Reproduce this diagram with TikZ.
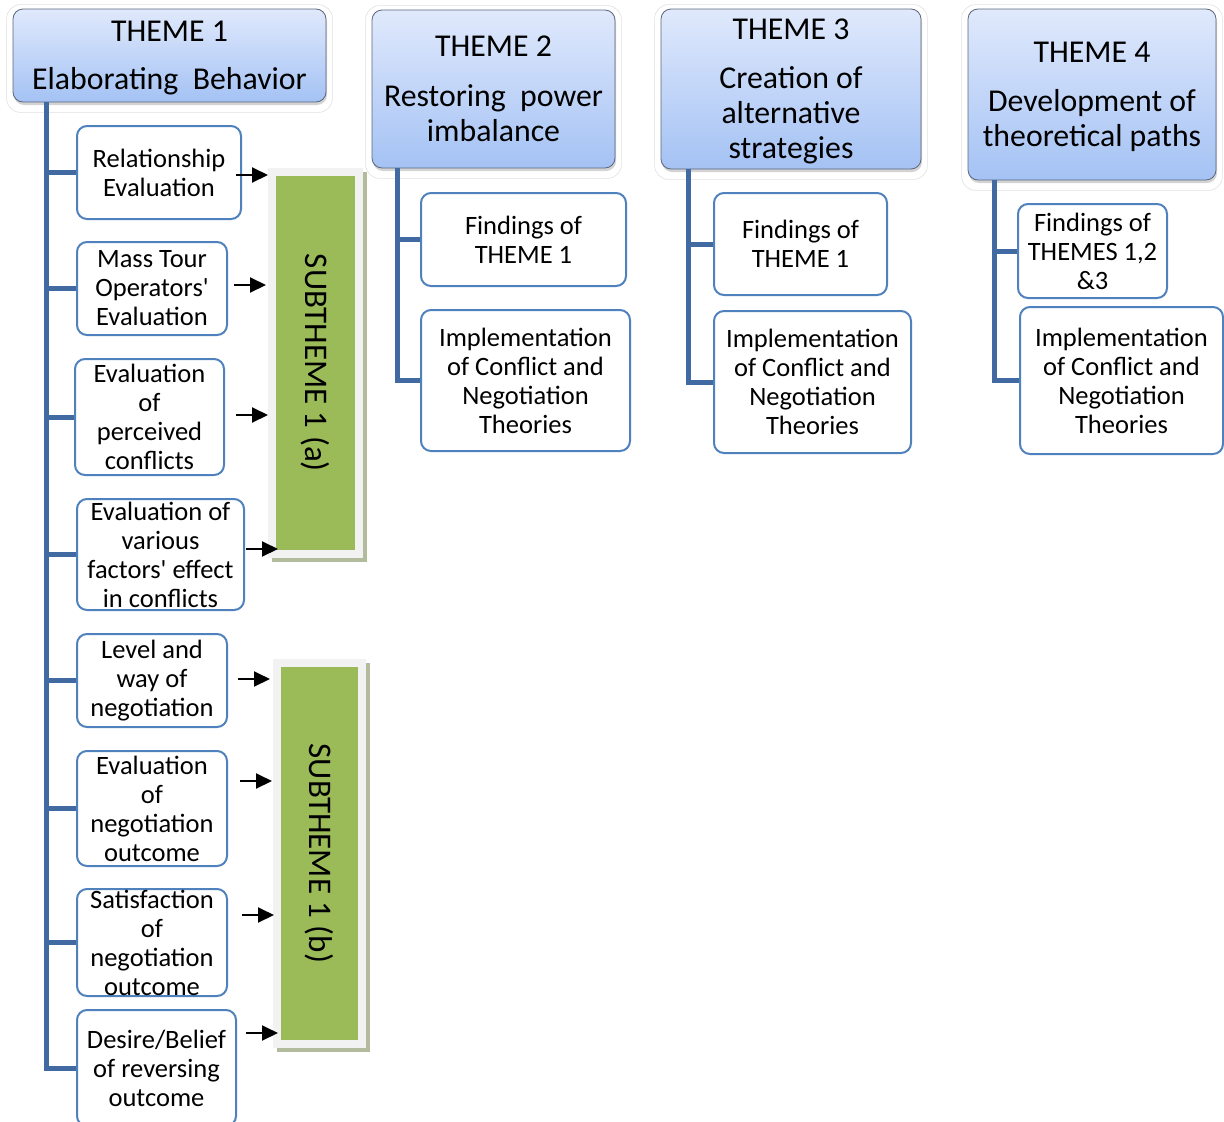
\documentclass[tikz,border=0pt]{standalone}
\usepackage{fontspec}
\setmainfont{Carlito}
\usetikzlibrary{shadows,arrows.meta,calc}

\definecolor{branchblue}{RGB}{65,106,162}
\definecolor{boxblue}{RGB}{79,129,189}
\definecolor{headtop}{RGB}{224,233,252}
\definecolor{headbot}{RGB}{164,194,244}
\definecolor{headline}{RGB}{92,102,122}
\definecolor{subgreen}{RGB}{155,187,89}
\definecolor{subframe}{RGB}{242,242,242}
\definecolor{subshadow}{RGB}{178,188,156}

% stacked header lines, lowered a little inside the box (box size kept)
\newcommand{\hdtext}[1]{\raisebox{-3pt}[\height][\depth]{\begin{tabular}{@{}c@{}}#1\end{tabular}}}

\tikzset{
  theme/.style={rounded corners=10pt, top color=headtop, bottom color=headbot,
    draw=headline, line width=0.8pt, align=center, inner sep=0pt,
    drop shadow={shadow xshift=1pt, shadow yshift=-3pt, opacity=0.35},
    font=\fontsize{31.8}{35}\selectfont},
  halo/.style={draw=black!12, line width=0.6pt, rounded corners=14pt},
  leaf/.style={draw=boxblue, line width=2pt, rounded corners=10pt, fill=white,
    align=center, inner sep=0pt, font=\fontsize{26.5}{29}\selectfont},
  trunk/.style={draw=branchblue, line width=5pt},
  arr/.style={-{Triangle[length=16pt,width=15pt]}, line width=2pt, black},
  subtheme/.style={fill=subgreen, draw=subframe, line width=8pt, inner sep=0pt,
    font=\fontsize{33}{36}\selectfont,
    preaction={fill=subshadow, draw=subshadow, line width=8pt,
      transform canvas={xshift=4pt, yshift=-4pt}}},
}

\begin{document}
\begin{tikzpicture}[x=1pt, y=-1pt]
\useasboundingbox (0,0) rectangle (1224,1122);

% theme headers
\node[theme, minimum width=313, minimum height=93] (t1) at (169.5,55.5)
  {\hdtext{THEME 1\\[13pt]Elaborating\ \ Behavior}};
\node[theme, minimum width=243, minimum height=158] (t2) at (493.5,89)
  {\hdtext{THEME 2\\[15pt]Restoring\ \ power\\imbalance}};
\node[theme, minimum width=260, minimum height=160] (t3) at (791,89)
  {\hdtext{THEME 3\\[14pt]Creation of\\alternative\\strategies}};
\node[theme, minimum width=248, minimum height=171] (t4) at (1092,94.5)
  {\hdtext{THEME 4\\[14pt]Development of\\theoretical paths}};

\foreach \t in {t1,t2,t3,t4}
  \draw[halo] ($(\t.north west)+(-6,-4)$) rectangle ($(\t.south east)+(6,10)$);

% subthemes
\node[subtheme, minimum width=87, minimum height=382] (sa) at (315.5,363)
  {\rotatebox{-90}{SUBTHEME 1 (a)}};
\node[subtheme, minimum width=85, minimum height=381] (sb) at (319.5,853.5)
  {\rotatebox{-90}{SUBTHEME 1 (b)}};

% theme 1 items
\node[leaf, minimum width=164, minimum height=93] (c1) at (159,172.5)
  {Relationship\\Evaluation};
\node[leaf, minimum width=150, minimum height=93] (c2) at (152,288.5)
  {Mass Tour\\Operators\textquotesingle\\Evaluation};
\node[leaf, minimum width=149, minimum height=116] (c3) at (149.5,417)
  {Evaluation\\of\\perceived\\conflicts};
\node[leaf, minimum width=167, minimum height=111] (c4) at (160.5,554.5)
  {Evaluation of\\various\\factors\textquotesingle\ effect\\in conflicts};
\node[leaf, minimum width=150, minimum height=93] (c5) at (152,680.5)
  {Level and\\way of\\negotiation};
\node[leaf, minimum width=150, minimum height=115] (c6) at (152,808.5)
  {Evaluation\\of\\negotiation\\outcome};
\node[leaf, minimum width=150, minimum height=107] (c7) at (152,942.5)
  {Satisfaction\\of\\negotiation\\outcome};
\node[leaf, minimum width=159, minimum height=116] (c8) at (156.5,1068)
  {Desire/Belief\\of reversing\\outcome};

% theme 2 items
\node[leaf, minimum width=205, minimum height=93] (f2) at (523.5,239.5)
  {Findings of\\THEME 1};
\node[leaf, minimum width=209, minimum height=141] (i2) at (525.5,380.5)
  {Implementation\\of Conflict and\\Negotiation\\Theories};
% theme 3 items
\node[leaf, minimum width=173, minimum height=102] (f3) at (800.5,244)
  {Findings of\\THEME 1};
\node[leaf, minimum width=197, minimum height=142] (i3) at (812.5,382)
  {Implementation\\of Conflict and\\Negotiation\\Theories};
% theme 4 items
\node[leaf, minimum width=149, minimum height=94] (f4) at (1092.5,251)
  {Findings of\\THEMES 1,2\\\&3};
\node[leaf, minimum width=203, minimum height=147] (i4) at (1121.5,380.5)
  {Implementation\\of Conflict and\\Negotiation\\Theories};

% trunks and branches
\coordinate (r1) at (46,102);
\coordinate (r2) at (397,168);
\coordinate (r3) at (688,169);
\coordinate (r4) at (994,180);

\draw[trunk] (r1) |- (c8.west);
\foreach \c in {c1,c2,c3,c4,c5,c6,c7}
  \draw[trunk] (r1 |- \c.west) -- (\c.west);
\draw[trunk] (r2) |- (i2.west);
\draw[trunk] (r2 |- f2.west) -- (f2.west);
\draw[trunk] (r3) |- (i3.west);
\draw[trunk] (r3 |- f3.west) -- (f3.west);
\draw[trunk] (r4) |- (i4.west);
\draw[trunk] (r4 |- f4.west) -- (f4.west);

% arrows into the subthemes
\coordinate (a1) at (236,175);
\coordinate (a2) at (234,285);
\coordinate (a3) at (236,415);
\coordinate (a4) at (246,549);
\coordinate (a5) at (238,679);
\coordinate (a6) at (240,781);
\coordinate (a7) at (242,915);
\coordinate (a8) at (246,1033);
\foreach \a in {a1,a2,a3,a4,a5,a6,a7,a8}
  \draw[arr] (\a) -- ++(32,0);
\end{tikzpicture}
\end{document}
